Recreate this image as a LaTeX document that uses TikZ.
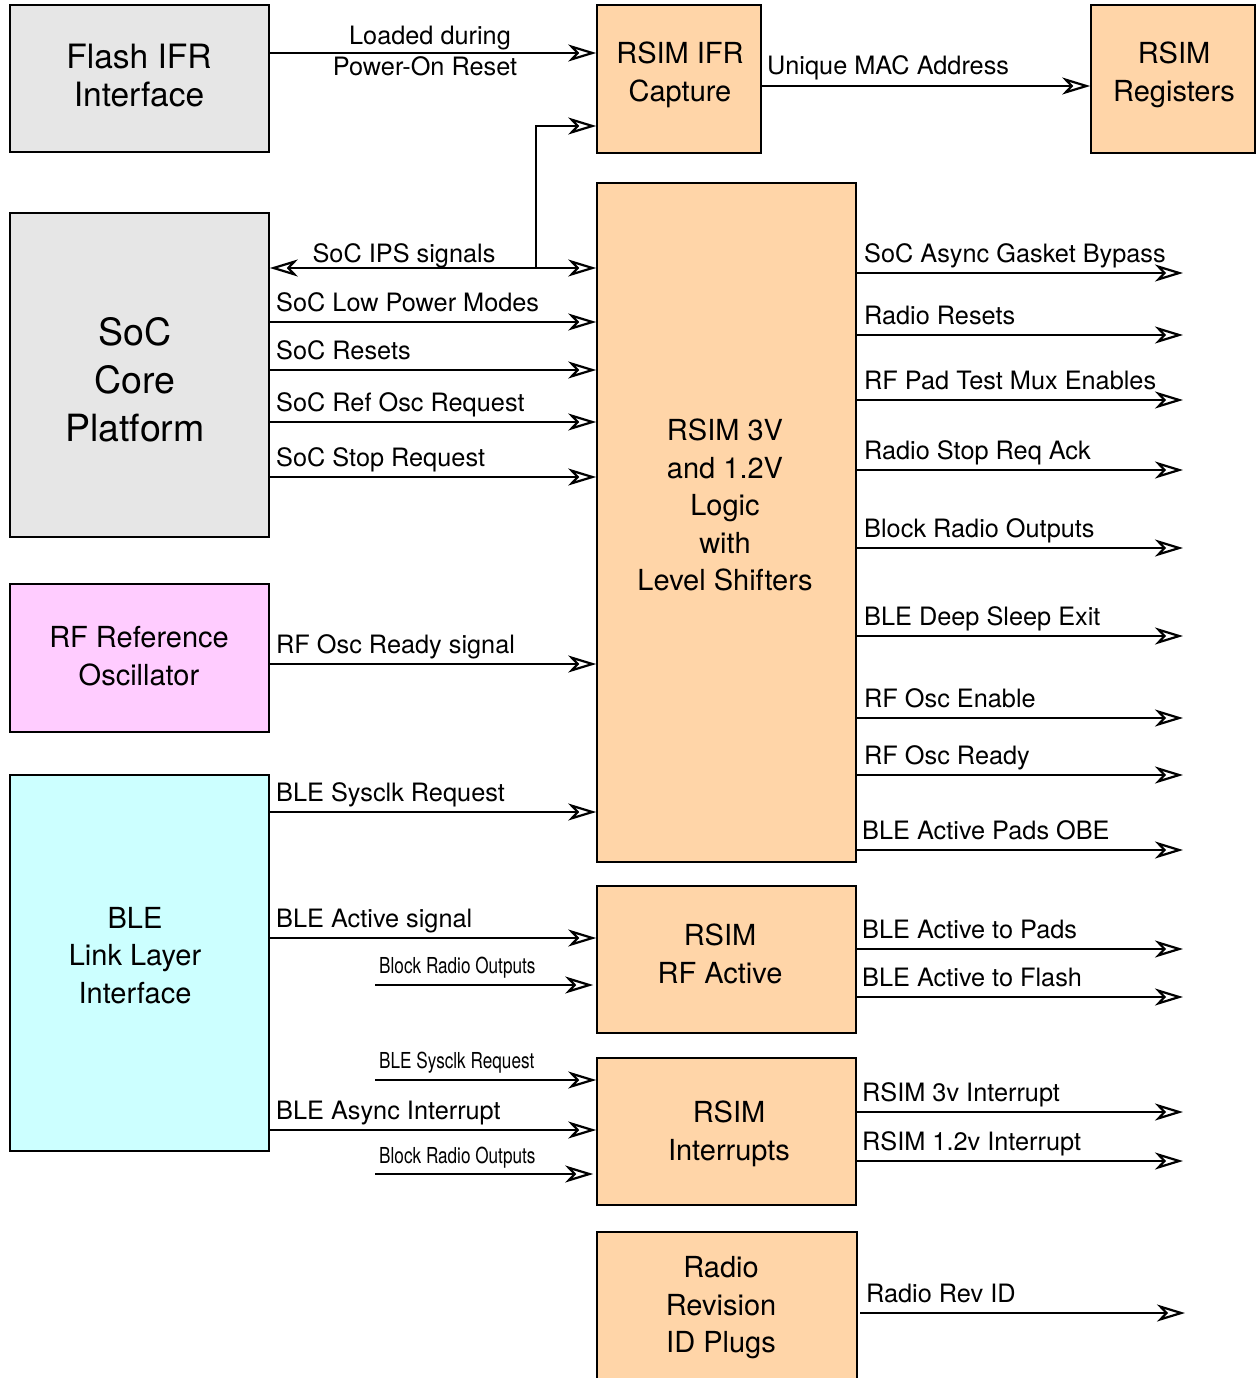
\documentclass[tikz,border=0pt]{standalone}
\usepackage{fontspec}
\setmainfont{TeX Gyre Heros}
\usetikzlibrary{arrows.meta}
\definecolor{peach}{RGB}{255,213,168}
\definecolor{boxgray}{RGB}{230,230,230}
\definecolor{pinkf}{RGB}{255,204,255}
\definecolor{cyanf}{RGB}{204,255,255}
\begin{document}
\begin{tikzpicture}[x=1pt,y=-1pt,
  >={Stealth[open,length=28pt,width=17pt,inset=8pt,line width=2.2pt]},
  box/.style={draw=black, line width=1.6pt, inner sep=0pt},
  btext/.style={align=center, inner sep=0pt, font=\fontsize{29}{37.5}\selectfont},
  arr/.style={line width=1.8pt, ->},
  lbl/.style={anchor=base west, inner sep=0pt, font=\fontsize{25.3}{30}\selectfont},
  clbl/.style={anchor=base, inner sep=0pt, font=\fontsize{25.3}{30}\selectfont},
  nlbl/.style={anchor=base west, inner sep=0pt, font=\fontsize{22}{26}\selectfont},
]
\useasboundingbox (0,0) rectangle (1257,1378);

% ---------- boxes ----------
\node[box, fill=boxgray, minimum width=259pt, minimum height=147pt] (flash) at (139.5,78.5) {};
\node[box, fill=peach, minimum width=164pt, minimum height=148pt] (ifr) at (679,79) {};
\node[box, fill=peach, minimum width=164pt, minimum height=148pt] (regs) at (1173,79) {};
\node[box, fill=boxgray, minimum width=259pt, minimum height=324pt] (soc) at (139.5,375) {};
\node[box, fill=pinkf, minimum width=259pt, minimum height=148pt] (rfosc) at (139.5,658) {};
\node[box, fill=cyanf, minimum width=259pt, minimum height=376pt] (ble) at (139.5,963) {};
\node[box, fill=peach, minimum width=259pt, minimum height=679pt] (logic) at (726.5,522.5) {};
\node[box, fill=peach, minimum width=259pt, minimum height=147pt] (rfact) at (726.5,959.5) {};
\node[box, fill=peach, minimum width=259pt, minimum height=147pt] (intr) at (726.5,1131.5) {};
\node[box, fill=peach, minimum width=260pt, minimum height=180pt] (rev) at (727,1322) {};

% ---------- box texts ----------
\node[btext, font=\fontsize{33.5}{38}\selectfont] (flashT) at (139,76) {Flash IFR\\Interface};
\node[btext, font=\fontsize{29}{38}\selectfont] (ifrT) at (680,75) {RSIM IFR\\Capture};
\node[btext, font=\fontsize{29}{38}\selectfont] (regsT) at (1174,75) {RSIM\\Registers};
\node[btext, font=\fontsize{37.5}{48}\selectfont] (socT) at (135,380) {SoC\\Core\\Platform};
\node[btext] (rfoscT) at (139,656) {RF Reference\\Oscillator};
\node[btext] (bleT) at (135,955.5) {BLE\\Link Layer\\Interface};
\node[btext] (logicT) at (725,505) {RSIM 3V\\and 1.2V\\Logic\\with\\Level Shifters};
\node[btext] (rfactT) at (720,954) {RSIM\\RF Active};
\node[btext] (intrT) at (729,1134) {RSIM\\Interrupts};
\node[btext] (revT) at (721,1308) {Radio\\Revision\\ID Plugs};

% ---------- helper coordinates ----------
\coordinate (br) at (536,268);
\coordinate (rend) at (1183,0);
\coordinate (n1) at (375,985);
\coordinate (n2) at (375,1080);
\coordinate (n3) at (375,1174);
\coordinate (revs) at (860,1313);

% ---------- top connectors ----------
\draw[arr] (flash.east |- 0,53) -- (ifr.west |- 0,53);
\node[clbl] (l1) at (430,45) {Loaded during};
\node[clbl] (l2) at (425,76) {Power-On Reset};
\draw[arr] (ifr.east |- 0,86) -- (regs.west |- 0,86);
\node[lbl] (l3) at (767,75) {Unique MAC Address};

% ---------- SoC connectors ----------
\draw[line width=1.8pt, <->] (soc.east |- 0,268) -- (logic.west |- 0,268);
\draw[arr] (br) -- (br |- 0,126) -- (ifr.west |- 0,126);
\node[clbl] (l4) at (404,262) {SoC IPS signals};
\draw[arr] (soc.east |- 0,322) -- (logic.west |- 0,322);
\node[lbl] (l5) at (276,311) {SoC Low Power Modes};
\draw[arr] (soc.east |- 0,370) -- (logic.west |- 0,370);
\node[lbl] (l6) at (276,359) {SoC Resets};
\draw[arr] (soc.east |- 0,422) -- (logic.west |- 0,422);
\node[lbl] (l7) at (276,411) {SoC Ref Osc Request};
\draw[arr] (soc.east |- 0,477) -- (logic.west |- 0,477);
\node[lbl] (l8) at (276,466) {SoC Stop Request};

% ---------- RF osc ----------
\draw[arr] (rfosc.east |- 0,664) -- (logic.west |- 0,664);
\node[lbl] (l9) at (276,653) {RF Osc Ready signal};

% ---------- BLE ----------
\draw[arr] (ble.east |- 0,812) -- (logic.west |- 0,812);
\node[lbl] (l10) at (276,801) {BLE Sysclk Request};
\draw[arr] (ble.east |- 0,938) -- (rfact.west |- 0,938);
\node[lbl] (l11) at (276,927) {BLE Active signal};
\draw[arr] (n1) -- ([xshift=-3pt]rfact.west |- n1);
\node[nlbl] (l12) at (379,973) {\scalebox{0.78}[1]{Block Radio Outputs}};
\draw[arr] (n2) -- (intr.west |- n2);
\node[nlbl] (l13) at (379,1068) {\scalebox{0.78}[1]{BLE Sysclk Request}};
\draw[arr] (ble.east |- 0,1130) -- (intr.west |- 0,1130);
\node[lbl] (l14) at (276,1119) {BLE Async Interrupt};
\draw[arr] (n3) -- ([xshift=-3pt]intr.west |- n3);
\node[nlbl] (l15) at (379,1163) {\scalebox{0.78}[1]{Block Radio Outputs}};

% ---------- logic outputs ----------
\draw[arr] (logic.east |- 0,273) -- (rend |- 0,273);
\node[lbl] (r1) at (864,262) {SoC Async Gasket Bypass};
\draw[arr] (logic.east |- 0,335) -- (rend |- 0,335);
\node[lbl] (r2) at (864,324) {Radio Resets};
\draw[arr] (logic.east |- 0,400) -- (rend |- 0,400);
\node[lbl] (r3) at (864,389) {RF Pad Test Mux Enables};
\draw[arr] (logic.east |- 0,470) -- (rend |- 0,470);
\node[lbl] (r4) at (864,459) {Radio Stop Req Ack};
\draw[arr] (logic.east |- 0,548) -- (rend |- 0,548);
\node[lbl] (r5) at (864,537) {Block Radio Outputs};
\draw[arr] (logic.east |- 0,636) -- (rend |- 0,636);
\node[lbl] (r6) at (864,625) {BLE Deep Sleep Exit};
\draw[arr] (logic.east |- 0,718) -- (rend |- 0,718);
\node[lbl] (r7) at (864,707) {RF Osc Enable};
\draw[arr] (logic.east |- 0,775) -- (rend |- 0,775);
\node[lbl] (r8) at (864,764) {RF Osc Ready};
\draw[arr] (logic.east |- 0,850) -- (rend |- 0,850);
\node[lbl] (r9) at (862,839) {BLE Active Pads OBE};

% ---------- RF active outputs ----------
\draw[arr] (rfact.east |- 0,949) -- (rend |- 0,949);
\node[lbl] (r10) at (862,938) {BLE Active to Pads};
\draw[arr] (rfact.east |- 0,997) -- (rend |- 0,997);
\node[lbl] (r11) at (862,986) {BLE Active to Flash};

% ---------- interrupts outputs ----------
\draw[arr] (intr.east |- 0,1112) -- (rend |- 0,1112);
\node[lbl] (r12) at (862,1101) {RSIM 3v Interrupt};
\draw[arr] (intr.east |- 0,1161) -- (rend |- 0,1161);
\node[lbl] (r13) at (862,1150) {RSIM 1.2v Interrupt};

% ---------- revision ----------
\draw[arr] (revs) -- ([xshift=2pt]rend |- revs);
\node[lbl] (r14) at (866,1302) {Radio Rev ID};
\end{tikzpicture}
\end{document}
